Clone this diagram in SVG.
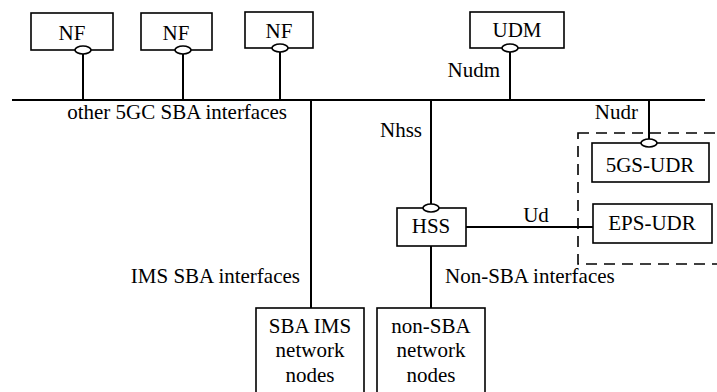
<svg xmlns="http://www.w3.org/2000/svg" width="717" height="392" viewBox="0 0 717 392">
<style>
.box{fill:#fff;stroke:#000;stroke-width:1.6}
.ln{stroke:#000;stroke-width:2;fill:none}
.ov{fill:#fff;stroke:#000;stroke-width:1.6}
.dash{fill:none;stroke:#000;stroke-width:1.6;stroke-dasharray:11 7}
.m{text-anchor:middle}
</style>
<rect width="717" height="392" fill="#fff"/>
<g font-family="Liberation Serif, DejaVu Serif, serif" font-size="21" fill="#000">
<g id="connectors">
<line class="ln" x1="12" y1="100" x2="705" y2="100"/>
<line class="ln" x1="83" y1="50" x2="83" y2="100"/>
<line class="ln" x1="183" y1="50" x2="183" y2="100"/>
<line class="ln" x1="280" y1="48" x2="280" y2="100"/>
<line class="ln" x1="510" y1="48" x2="510" y2="100"/>
<line class="ln" x1="649" y1="100" x2="649" y2="143"/>
<line class="ln" x1="431" y1="100" x2="431" y2="208"/>
<line class="ln" x1="466" y1="227" x2="593" y2="227"/>
<line class="ln" x1="431" y1="246" x2="431" y2="308"/>
<line class="ln" x1="311" y1="100" x2="311" y2="308"/>
<text x="287" y="119" text-anchor="end">other 5GC SBA interfaces</text>
<text x="500" y="77" text-anchor="end">Nudm</text>
<text x="638" y="119" text-anchor="end">Nudr</text>
<text x="422" y="137" text-anchor="end">Nhss</text>
<text x="536" y="222" class="m">Ud</text>
<text x="300" y="283" text-anchor="end">IMS SBA interfaces</text>
<text x="445" y="283">Non-SBA interfaces</text>
</g>
<rect class="dash" x="578" y="133" width="160" height="131"/>
<g id="nf1"><rect class="box" x="31" y="13" width="82" height="37"/><text x="72" y="40" class="m">NF</text><ellipse class="ov" cx="83" cy="50" rx="8" ry="4"/></g>
<g id="nf2"><rect class="box" x="141" y="13" width="71" height="37"/><text x="176" y="40" class="m">NF</text><ellipse class="ov" cx="183" cy="50" rx="8" ry="4"/></g>
<g id="nf3"><rect class="box" x="245" y="12" width="68" height="36"/><text x="279" y="38" class="m">NF</text><ellipse class="ov" cx="280" cy="48" rx="8" ry="4"/></g>
<g id="udm"><rect class="box" x="470" y="12" width="94" height="36"/><text x="517" y="37" class="m">UDM</text><ellipse class="ov" cx="510" cy="48" rx="8" ry="4"/></g>
<g id="udr5gs"><rect class="box" x="592" y="143" width="117" height="39"/><text x="650" y="172" class="m">5GS-UDR</text><ellipse class="ov" cx="649" cy="143" rx="8" ry="4"/></g>
<g id="udreps"><rect class="box" x="593" y="204" width="119" height="39"/><text x="652" y="230" class="m">EPS-UDR</text></g>
<g id="hss"><rect class="box" x="397" y="208" width="69" height="38"/><text x="431" y="233" class="m">HSS</text><ellipse class="ov" cx="431" cy="208" rx="8" ry="4"/></g>
<g id="sbaims"><rect class="box" x="256" y="308" width="108" height="100"/><text x="310" y="333" class="m">SBA IMS</text><text x="310" y="357" class="m">network</text><text x="310" y="382" class="m">nodes</text></g>
<g id="nonsba"><rect class="box" x="377" y="308" width="108" height="100"/><text x="431" y="333" class="m">non-SBA</text><text x="431" y="357" class="m">network</text><text x="431" y="382" class="m">nodes</text></g>
</g>
</svg>
